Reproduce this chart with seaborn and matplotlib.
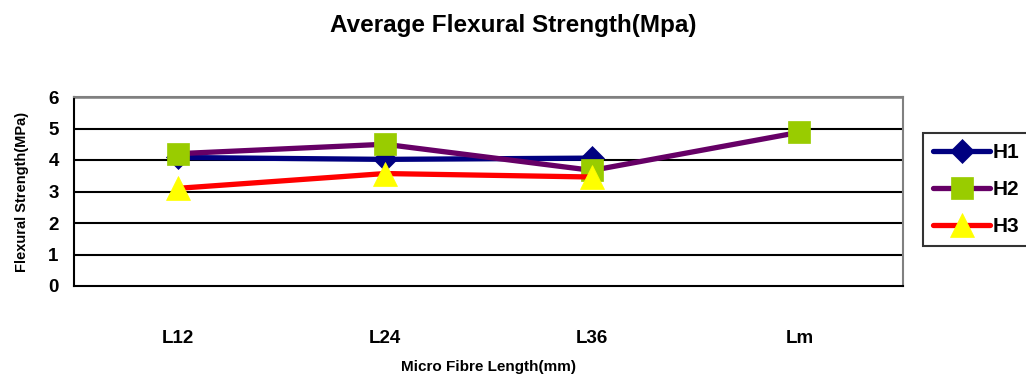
import matplotlib
matplotlib.use("Agg")
import matplotlib.pyplot as plt
import seaborn as sns
import pandas as pd
import numpy as np

categories = ["L12", "L24", "L36", "Lm"]
series_names = ["H1", "H2", "H3"]
h1 = [4.08, 4.02, 4.06, np.nan]
h2 = [4.2, 4.5, 3.67, 4.88]
h3 = [3.1, 3.57, 3.46, np.nan]
y_ticks = [0, 1, 2, 3, 4, 5, 6]

line_colors = {"H1": "#000080", "H2": "#660066", "H3": "#FF0000"}
face_colors = {"H1": "#000080", "H2": "#99CC00", "H3": "#FFFF00"}
marker_map = {"H1": "D", "H2": "s", "H3": "^"}
marker_sizes = {"H1": 12, "H2": 16, "H3": 17}

rows = []
for name, vals in zip(series_names, [h1, h2, h3]):
    for c, v in zip(categories, vals):
        rows.append({"length": c, "strength": v, "series": name})
df = pd.DataFrame(rows)
df["length"] = pd.Categorical(df["length"], categories=categories, ordered=True)
df = df.dropna()

sns.set_style("white")
plt.rcParams["font.family"] = ["Liberation Sans", "DejaVu Sans"]
plt.rcParams["font.weight"] = "bold"
plt.rcParams["text.color"] = "black"
plt.rcParams["axes.labelcolor"] = "black"
plt.rcParams["xtick.color"] = "black"
plt.rcParams["ytick.color"] = "black"

fig = plt.figure(figsize=(10.26, 3.79), dpi=100)
ax = fig.add_axes([74 / 1026, 1 - 286 / 379, (903 - 74) / 1026, (286 - 97) / 379])

sns.lineplot(data=df, x="length", y="strength", hue="series", style="series",
             hue_order=series_names, style_order=series_names,
             palette=line_colors, markers=marker_map, dashes=False,
             linewidth=3.8, errorbar=None, legend=False, ax=ax, sort=False)

for line, name in zip(ax.lines, series_names):
    line.set_markerfacecolor(face_colors[name])
    line.set_markeredgecolor(face_colors[name])
    line.set_markersize(marker_sizes[name])
    line.set_markeredgewidth(0.5)
    line.set_solid_capstyle("round")
    line.set_label(name)

ax.set_xlim(-0.5, len(categories) - 0.5)
ax.set_ylim(0, 6)
ax.set_yticks(y_ticks)
ax.set_yticklabels([str(t) for t in y_ticks], fontsize=13.5, fontweight="bold")
ax.set_xticks(range(len(categories)))
ax.set_xticklabels(categories, fontsize=13.5, fontweight="bold")
ax.set_xticks(np.arange(-0.5, len(categories), 1.0), minor=True)
ax.tick_params(axis="x", which="major", length=0, pad=32)
ax.tick_params(axis="x", which="minor", length=7, width=1.5, color="black", direction="out")
ax.tick_params(axis="y", length=6, width=1.5, color="black", direction="out", pad=5)

for y in y_ticks[1:-1]:
    ax.axhline(y, color="black", linewidth=1.5, zorder=0.5)
ax.axhline(6, color="#808080", linewidth=1.8, zorder=0.5)

ax.spines["left"].set_color("black")
ax.spines["left"].set_linewidth(1.5)
ax.spines["bottom"].set_color("black")
ax.spines["bottom"].set_linewidth(1.5)
ax.spines["top"].set_color("#808080")
ax.spines["top"].set_linewidth(1.5)
ax.spines["right"].set_color("#808080")
ax.spines["right"].set_linewidth(1.5)

ax.set_xlabel("Micro Fibre Length(mm)", fontsize=11, fontweight="bold", labelpad=9)
ax.set_ylabel("Flexural Strength(MPa)", fontsize=10.5, fontweight="bold", labelpad=14)
fig.suptitle("Average Flexural Strength(Mpa)", fontsize=17.5, fontweight="bold", y=0.962)

leg = fig.legend(handles=ax.lines[:3], labels=series_names, loc="upper left",
                 bbox_to_anchor=(923 / 1026, 1 - 133 / 379), frameon=True,
                 fancybox=False, edgecolor="black", fontsize=15, handlelength=2.7,
                 borderpad=0.5, labelspacing=0.85, handletextpad=0.15,
                 borderaxespad=0.0)
leg.get_frame().set_linewidth(1.5)
for t in leg.get_texts():
    t.set_fontweight("bold")

fig.savefig("out.png", dpi=100)
